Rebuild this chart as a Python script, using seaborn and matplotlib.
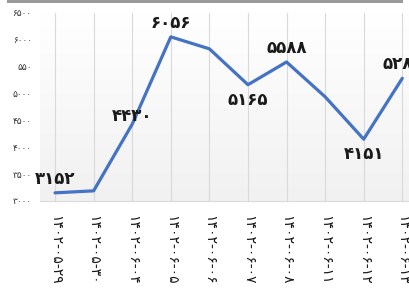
import numpy as np
import pandas as pd
import matplotlib
matplotlib.use("Agg")
import matplotlib.pyplot as plt
from matplotlib.patches import Rectangle
import seaborn as sns

# ── Data ──────────────────────────────────────────────────────────────────────
DATES = ["۱۴۰۲-۰۵-۲۹", "۱۴۰۲-۰۵-۳۰", "۱۴۰۲-۰۶-۰۴", "۱۴۰۲-۰۶-۰۵", "۱۴۰۲-۰۶-۰۶",
         "۱۴۰۲-۰۶-۰۷", "۱۴۰۲-۰۶-۰۸", "۱۴۰۲-۰۶-۱۱", "۱۴۰۲-۰۶-۱۲", "۱۴۰۲-۰۶-۱۳"]
VALUES = [3152, 3189, 4430, 6056, 5833, 5165, 5588, 4940, 4151, 5284]
# which points carry a value label, and whether it sits above (+1) or below (-1)
LABEL_SIDE = [1, 0, 1, 1, 0, -1, 1, 0, -1, 1]

Y_TICKS = [3000, 3500, 4000, 4500, 5000, 5500, 6000, 6500]
Y_TICK_LABELS = ["۳۰۰۰", "۳۵۰۰", "۴۰۰۰", "۴۵۰۰", "۵۰۰۰", "۵۵۰", "۶۰۰۰", "۶۵۰۰"]

PERSIAN = str.maketrans("0123456789", "۰۱۲۳۴۵۶۷۸۹")

LINE_COLOR = "#4472c4"
GRID_COLOR = "#d9d9d9"

# ── Figure ────────────────────────────────────────────────────────────────────
sns.set_style("white")
plt.rcParams["font.family"] = ["DejaVu Sans"]

fig = plt.figure(figsize=(4.10, 2.99), dpi=100)
ax = fig.add_axes([40 / 410, 1 - 201 / 299, 370 / 410, 188 / 299])

df = pd.DataFrame({"date": DATES, "value": VALUES})
sns.lineplot(data=df, x="date", y="value", sort=False, color=LINE_COLOR,
             linewidth=2.3, ax=ax, zorder=3)

ax.set_xlim(-0.39, 9.2)
ax.set_ylim(3000, 6500)

# soft vertical gradient behind the plot
grad = np.linspace(1.0, 0.0, 256).reshape(-1, 1)
ax.imshow(grad, extent=[*ax.get_xlim(), *ax.get_ylim()], aspect="auto",
          cmap=sns.blend_palette(["#f1f1f1", "#ffffff"], as_cmap=True),
          zorder=0)

# vertical gridlines at each category
for i in range(len(DATES)):
    ax.axvline(i, color=GRID_COLOR, linewidth=0.8, zorder=1)

for s in ["top", "right", "left"]:
    ax.spines[s].set_visible(False)
ax.spines["bottom"].set_color(GRID_COLOR)
ax.spines["bottom"].set_linewidth(0.8)

ax.set_yticks(Y_TICKS)
ax.set_yticklabels(Y_TICK_LABELS, fontsize=6.5, color="#333333")
ax.tick_params(axis="y", length=0, pad=6)

ax.set_xticks(range(len(DATES)))
ax.set_xticklabels(DATES, rotation=-90, fontsize=10, color="#1a1a1a",
                   va="top", ha="center")
ax.tick_params(axis="x", length=3, color=GRID_COLOR, pad=7)

ax.set_xlabel("")
ax.set_ylabel("")

# value labels
for i, (v, side) in enumerate(zip(VALUES, LABEL_SIDE)):
    if side == 0:
        continue
    off = 10 if side > 0 else -11
    if i == 2:
        off = 6
    ax.annotate(str(v).translate(PERSIAN), (i, v), xytext=(0, off),
                textcoords="offset points", ha="center", va="center",
                fontsize=12, fontweight="bold", color="#1a1a1a",
                annotation_clip=False, zorder=4)

# grey strip along the top edge
fig.add_artist(Rectangle((7 / 410, 1 - 3 / 299), 396 / 410, 3 / 299,
                         transform=fig.transFigure, color="#9a9a9a", lw=0))

fig.savefig("out.png", dpi=100)
